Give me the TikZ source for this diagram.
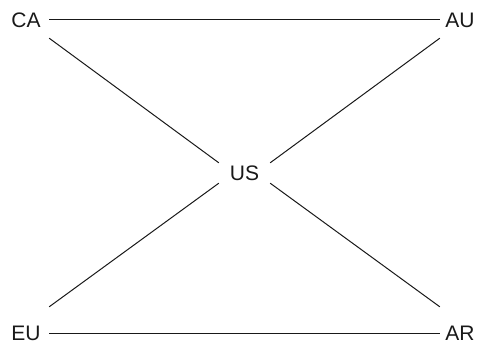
\documentclass[tikz,border=0pt]{standalone}
\usepackage{fontspec}
\setmainfont{Liberation Sans}
\begin{document}
\begin{tikzpicture}[x=1pt,y=-1pt,
  lbl/.style={inner sep=0pt,font=\fontsize{21}{25}\selectfont,text=black!90},
  toplbl/.style={lbl,minimum width=46pt,minimum height=36pt},
  botlbl/.style={lbl,minimum width=46pt,minimum height=18pt},
  ctr/.style={lbl,minimum width=51pt,minimum height=20pt},
  link/.style={line width=1pt,black!90}]
\useasboundingbox (0,0) rectangle (478,344);
\node[toplbl] (CA) at (26,20) {CA};
\node[toplbl,minimum width=40pt] (AU) at (460,20) {AU};
\node[botlbl] (EU) at (26,333) {EU};
\node[botlbl,minimum width=40pt] (AR) at (460,333) {AR};
\node[ctr] (US) at (244.5,173) {US};
\draw[link] (CA.east) -- (AU.west);
\draw[link] (EU.east) -- (AR.west);
\draw[link] (CA.south east) -- (US.north west);
\draw[link] (AU.south west) -- (US.north east);
\draw[link] ([yshift=17pt]EU.north east) -- (US.south west);
\draw[link] ([yshift=17pt]AR.north west) -- (US.south east);
\end{tikzpicture}
\end{document}
